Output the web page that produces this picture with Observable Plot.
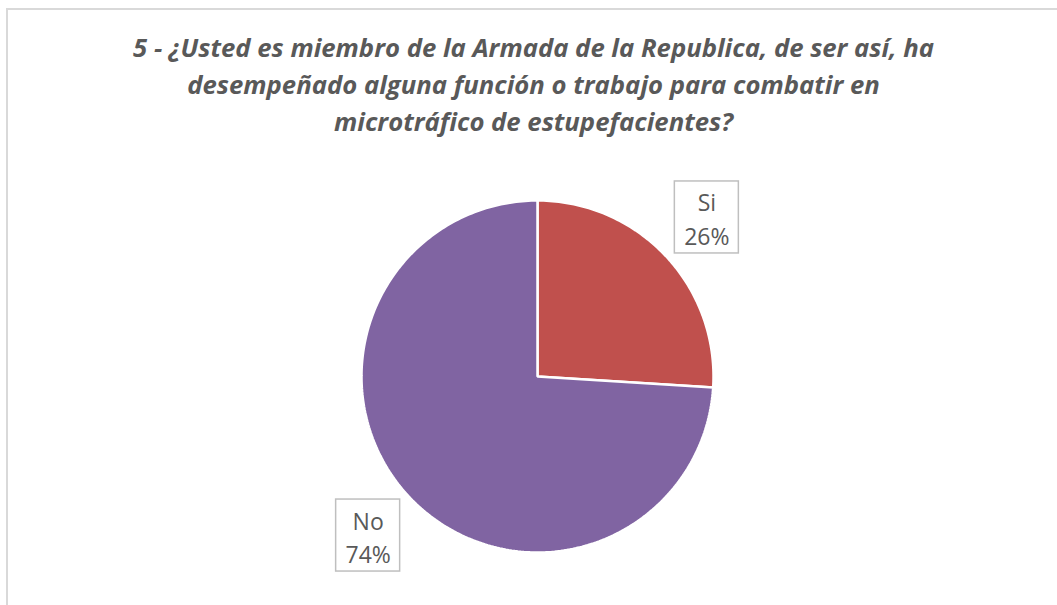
<!DOCTYPE html>
<html>
<head>
<meta charset="utf-8">
<script src="https://cdn.jsdelivr.net/npm/d3@7"></script>
<script src="https://cdn.jsdelivr.net/npm/@observablehq/plot@0.6"></script>
<style>
  html, body { margin: 0; padding: 0; background: #fff; }
  #wrap { position: relative; width: 1057px; height: 605px; overflow: hidden; }
  #frame { position: absolute; left: 6px; top: 8px; width: 1100px; height: 700px;
           border: 2px solid #d9d9d9; box-sizing: border-box; }
  #title { position: absolute; left: 0; top: 29px; width: 1067px; text-align: center;
           font-family: "Open Sans", Lato, sans-serif; font-weight: bold; font-style: italic;
           font-size: 25.7px; line-height: 37px; color: #595959; }
  #chart { position: absolute; left: 0; top: 0; }
</style>
</head>
<body>
<div id="wrap">
  <div id="frame"></div>
  <div id="chart"></div>
  <div id="title">5 - ¿Usted es miembro de la Armada de la Republica, de ser así, ha<br>desempeñado alguna función o trabajo para combatir en<br>microtráfico de estupefacientes?</div>
</div>
<script>
const categories = ["Si", "No"];
const values = [26, 74];
const colors = ["#C0504D", "#8064A2"];

// layout (pixels)
const W = 1057, H = 605, CX = 537, CY = 376, R = 176;
const labelRadius = 1.32;      // in units of pie radius
const boxHalfW = 32 / R, boxHalfH = 36 / R;

const total = d3.sum(values);
let acc = 0;
const slices = categories.map((c, i) => {
  const a0 = acc / total * 2 * Math.PI;
  acc += values[i];
  const a1 = acc / total * 2 * Math.PI;
  return {c, v: values[i], a0, a1, pct: Math.round(values[i] / total * 100)};
});

function slicePoints(s) {
  const pts = [{c: s.c, x: 0, y: 0}];
  const n = Math.max(2, Math.ceil((s.a1 - s.a0) / (Math.PI / 180)));
  for (let k = 0; k <= n; k++) {
    const a = s.a0 + (s.a1 - s.a0) * k / n;
    pts.push({c: s.c, x: Math.sin(a), y: Math.cos(a)});
  }
  return pts;
}

const labels = slices.map(s => {
  const m = (s.a0 + s.a1) / 2;
  return {c: s.c, text: `${s.c}\n${s.pct}%`, x: labelRadius * Math.sin(m), y: labelRadius * Math.cos(m)};
});

const plot = Plot.plot({
  width: W, height: H,
  margin: 0,
  x: {domain: [-CX / R, (W - CX) / R], axis: null},
  y: {domain: [-(H - CY) / R, CY / R], axis: null},
  color: {domain: categories, range: colors},
  style: {background: "transparent"},
  marks: [
    ...slices.map(s => Plot.line(slicePoints(s), {
      x: "x", y: "y", fill: colors[categories.indexOf(s.c)], stroke: "white",
      strokeWidth: 2.5, curve: "linear-closed", strokeLinejoin: "miter"
    })),
    Plot.rect(labels, {
      x1: d => d.x - boxHalfW, x2: d => d.x + boxHalfW,
      y1: d => d.y - boxHalfH, y2: d => d.y + boxHalfH,
      fill: "white", stroke: "#bfbfbf", strokeWidth: 1.5
    }),
    Plot.text(labels, {
      x: "x", y: "y", text: "text", fill: "#595959",
      fontSize: 23, lineHeight: 1.45, fontFamily: "'Open Sans', Lato, sans-serif"
    })
  ]
});
document.getElementById("chart").appendChild(plot);
</script>
</body>
</html>
